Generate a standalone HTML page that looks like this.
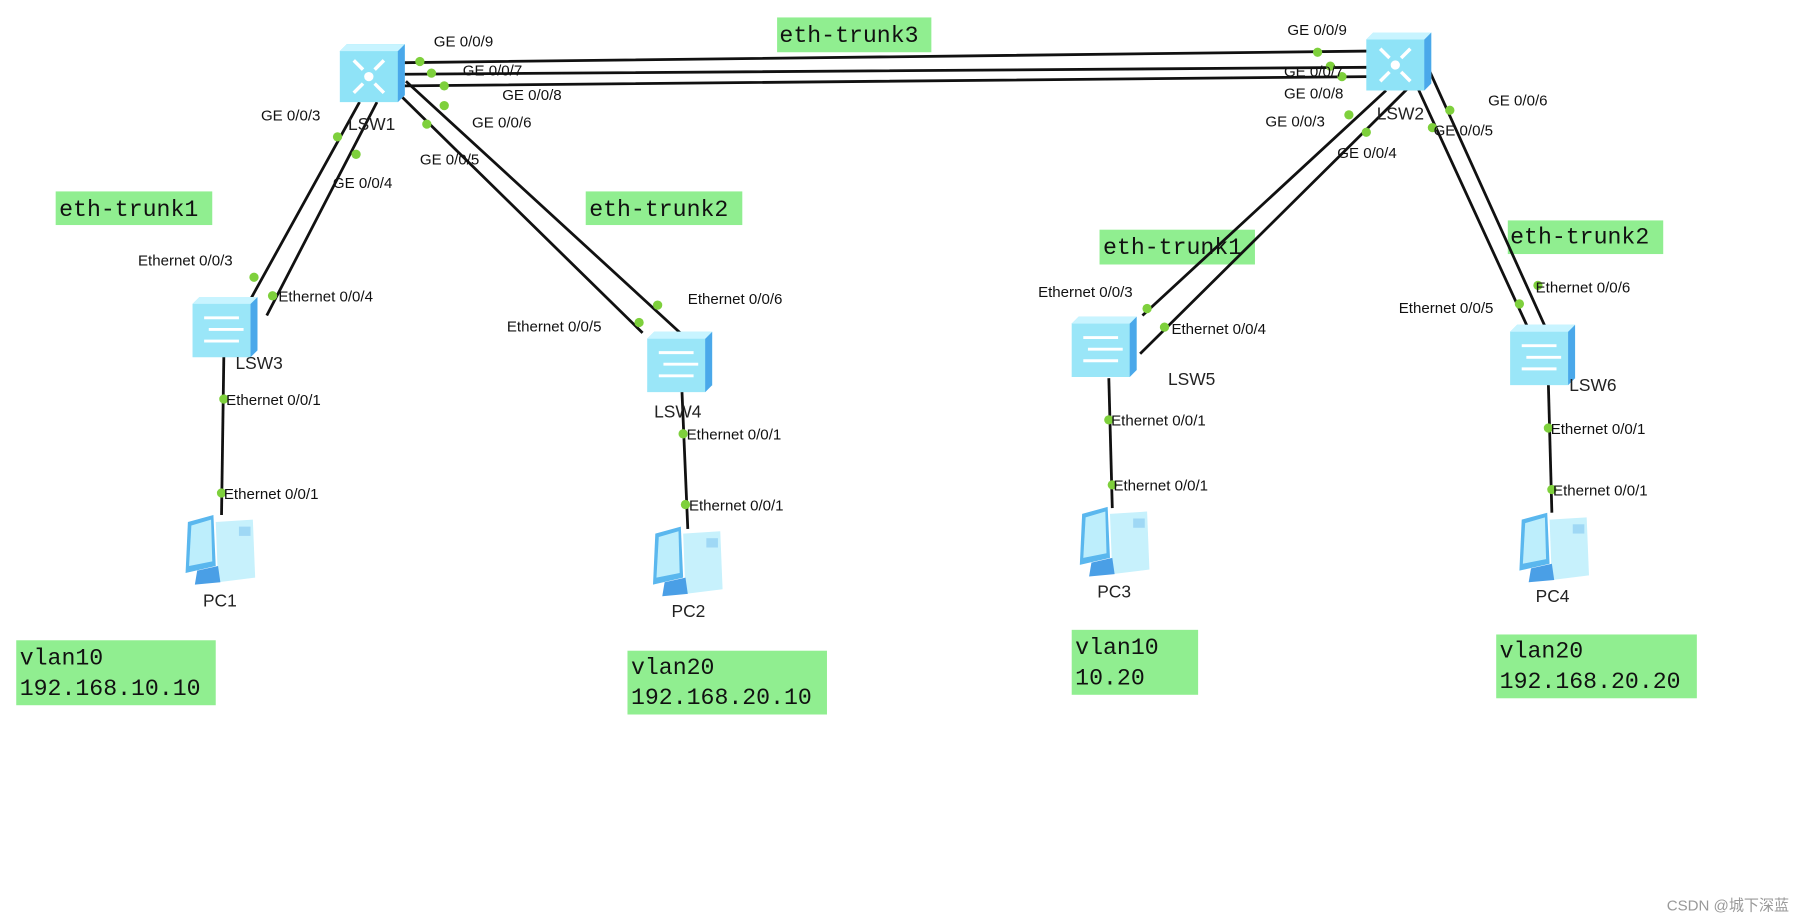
<!DOCTYPE html>
<html><head><meta charset="utf-8"><style>
html,body{margin:0;padding:0;background:#fff;}
svg{display:block}
.p{font-family:"Liberation Sans",Arial,sans-serif;font-size:13px;fill:#111}
.n{font-family:"Liberation Sans",Arial,sans-serif;font-size:15px;fill:#222}
.t{font-family:"Liberation Mono","DejaVu Sans Mono",monospace;font-size:20px;fill:#111}
.l{stroke:#111;stroke-width:2.4;fill:none}
.d{fill:#7ed03c}
.b{fill:#90ee90}
</style></head><body>
<svg width="1814" height="921" viewBox="0 0 1564 794" xmlns="http://www.w3.org/2000/svg">
<defs>
<g id="core">
<path d="M0,6 L6,0 L56,0 L56,44 L50,50 L0,50 Z" fill="#8fe3f7"/>
<path d="M50,6 L56,0 L56,44 L50,50 Z" fill="#4aa8ea"/>
<path d="M0,6 L6,0 L56,0 L50,6 Z" fill="#c8f4ff"/>
<circle cx="25" cy="28" r="4" fill="#fff"/>
<path d="M12,14 L20,22 M38,14 L30,22 M12,42 L20,34 M38,42 L30,34" stroke="#fff" stroke-width="3"/>
</g>
<g id="sw">
<path d="M0,6 L6,0 L56,0 L56,46 L50,52 L0,52 Z" fill="#9ae6f8"/>
<path d="M50,6 L56,0 L56,46 L50,52 Z" fill="#4aa8ea"/>
<path d="M0,6 L6,0 L56,0 L50,6 Z" fill="#c8f4ff"/>
<path d="M10,18 L40,18 M14,28 L44,28 M10,38 L40,38" stroke="#fff" stroke-width="2.5"/>
</g>
<g id="pc">
<path d="M28,8 L60,6 L62,56 L30,60 Z" fill="#c7f1fc"/>
<path d="M48,12 L58,12 L58,20 L48,20 Z" fill="#9fd8f5"/>
<path d="M4,8 L26,2 L28,46 L2,52 Z" fill="#5ab7ee"/>
<path d="M7,11 L24,6 L25,42 L5,46 Z" fill="#bdeefc"/>
<path d="M12,50 L30,46 L32,60 L10,62 Z" fill="#4a9fe6"/>
</g>
</defs>
<!-- green labels -->
<rect class="b" x="48" y="165" width="135" height="29"/>
<rect class="b" x="505" y="165" width="135" height="29"/>
<rect class="b" x="670" y="15" width="133" height="30"/>
<rect class="b" x="948" y="198" width="134" height="30"/>
<rect class="b" x="1300" y="190" width="134" height="29"/>
<rect class="b" x="14" y="552" width="172" height="56"/>
<rect class="b" x="541" y="561" width="172" height="55"/>
<rect class="b" x="924" y="543" width="109" height="56"/>
<rect class="b" x="1290" y="547" width="173" height="55"/>
<g class="t">
<text x="51" y="186">eth-trunk1</text><text x="508" y="186">eth-trunk2</text><text x="672" y="36">eth-trunk3</text>
<text x="951" y="219">eth-trunk1</text><text x="1302" y="210">eth-trunk2</text>
<text x="17" y="573">vlan10</text><text x="17" y="599">192.168.10.10</text>
<text x="544" y="581">vlan20</text><text x="544" y="607">192.168.20.10</text>
<text x="927" y="564">vlan10</text><text x="927" y="590">10.20</text>
<text x="1293" y="567">vlan20</text><text x="1293" y="593">192.168.20.20</text>
</g>
<!-- lines -->
<path class="l" d="M348,54 L1180,44 M348,64 L1180,58 M348,74 L1180,66"/>
<path class="l" d="M310,88 L216,258 M325,88 L230,272"/>
<path class="l" d="M345,82 L554,287 M350,70 L592,292"/>
<path class="l" d="M193,306 L191,444"/>
<path class="l" d="M588,338 L593,456"/>
<path class="l" d="M1195,78 L985,272 M1215,75 L983,305"/>
<path class="l" d="M1232,60 L1336,290 M1222,75 L1318,284"/>
<path class="l" d="M956,326 L959,438"/>
<path class="l" d="M1335,332 L1338,442"/>
<!-- dots -->
<g class="d">
<circle cx="362" cy="53" r="4"/><circle cx="372" cy="63" r="4"/><circle cx="383" cy="74" r="4"/>
<circle cx="1136" cy="45" r="4"/><circle cx="1147" cy="57" r="4"/><circle cx="1157" cy="66" r="4"/>
<circle cx="291" cy="118" r="4"/><circle cx="219" cy="239" r="4"/><circle cx="307" cy="133" r="4"/><circle cx="235" cy="255" r="4"/>
<circle cx="368" cy="107" r="4"/><circle cx="551" cy="278" r="4"/><circle cx="383" cy="91" r="4"/><circle cx="567" cy="263" r="4"/>
<circle cx="193" cy="344" r="4"/><circle cx="191" cy="425" r="4"/>
<circle cx="589" cy="374" r="4"/><circle cx="591" cy="435" r="4"/>
<circle cx="1163" cy="99" r="4"/><circle cx="989" cy="266" r="4"/><circle cx="1178" cy="114" r="4"/><circle cx="1004" cy="282" r="4"/>
<circle cx="1250" cy="95" r="4"/><circle cx="1326" cy="246" r="4"/><circle cx="1235" cy="110" r="4"/><circle cx="1310" cy="262" r="4"/>
<circle cx="956" cy="362" r="4"/><circle cx="959" cy="418" r="4"/>
<circle cx="1335" cy="369" r="4"/><circle cx="1338" cy="422" r="4"/>
</g>
<!-- devices -->
<use href="#core" x="293" y="38"/><use href="#core" x="1178" y="28"/>
<use href="#sw" x="166" y="256"/><use href="#sw" x="558" y="286"/><use href="#sw" x="924" y="273"/><use href="#sw" x="1302" y="280"/>
<use href="#pc" x="158" y="442"/><use href="#pc" x="561" y="452"/><use href="#pc" x="929" y="435"/><use href="#pc" x="1308" y="440"/>
<g class="n">
<text x="300" y="112">LSW1</text><text x="1187" y="103">LSW2</text>
<text x="203" y="318">LSW3</text><text x="564" y="360">LSW4</text><text x="1007" y="332">LSW5</text><text x="1353" y="337">LSW6</text>
<text x="175" y="523">PC1</text><text x="579" y="532">PC2</text><text x="946" y="515">PC3</text><text x="1324" y="519">PC4</text>
</g>
<g class="p">
<text x="374" y="40">GE 0/0/9</text><text x="399" y="65">GE 0/0/7</text><text x="433" y="86">GE 0/0/8</text><text x="407" y="110">GE 0/0/6</text>
<text x="225" y="104">GE 0/0/3</text><text x="287" y="162">GE 0/0/4</text><text x="362" y="142">GE 0/0/5</text>
<text x="1110" y="30">GE 0/0/9</text><text x="1107" y="66">GE 0/0/7</text><text x="1107" y="85">GE 0/0/8</text>
<text x="1091" y="109">GE 0/0/3</text><text x="1153" y="136">GE 0/0/4</text><text x="1283" y="91">GE 0/0/6</text><text x="1236" y="117">GE 0/0/5</text>
<text x="119" y="229">Ethernet 0/0/3</text><text x="240" y="260">Ethernet 0/0/4</text>
<text x="437" y="286">Ethernet 0/0/5</text><text x="593" y="262">Ethernet 0/0/6</text>
<text x="195" y="349">Ethernet 0/0/1</text><text x="193" y="430">Ethernet 0/0/1</text>
<text x="592" y="379">Ethernet 0/0/1</text><text x="594" y="440">Ethernet 0/0/1</text>
<text x="895" y="256">Ethernet 0/0/3</text><text x="1010" y="288">Ethernet 0/0/4</text>
<text x="958" y="367">Ethernet 0/0/1</text><text x="960" y="423">Ethernet 0/0/1</text>
<text x="1206" y="270">Ethernet 0/0/5</text><text x="1324" y="252">Ethernet 0/0/6</text>
<text x="1337" y="374">Ethernet 0/0/1</text><text x="1339" y="427">Ethernet 0/0/1</text>
</g>
<text x="1437" y="785" style="font-family:'Liberation Sans','Noto Sans CJK SC',sans-serif;font-size:13px;fill:#999">CSDN @城下深蓝</text>
</svg>
</body></html>
